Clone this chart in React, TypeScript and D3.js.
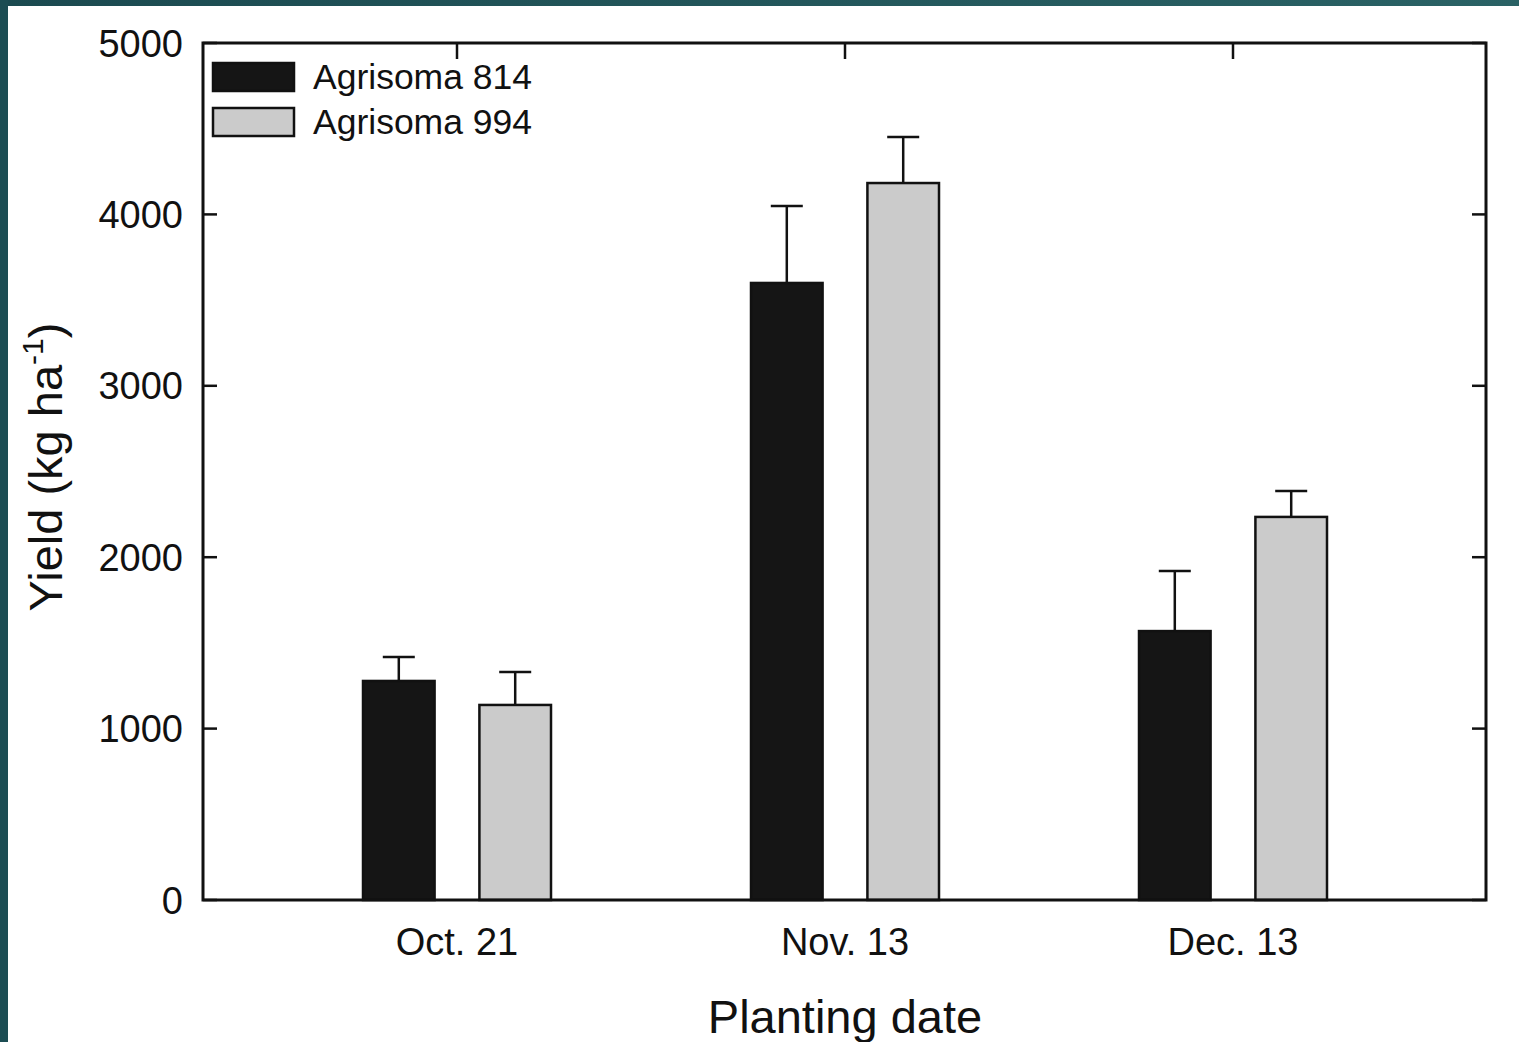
import React from "react";
import * as d3 from "d3";

const categories = ["Oct. 21", "Nov. 13", "Dec. 13"];
const seriesNames = ["Agrisoma 814", "Agrisoma 994"];
const yield814 = [1278, 3600, 1569];
const yield994 = [1138, 4183, 2235];
const err814 = [140, 449, 351];
const err994 = [192, 269, 151];
const yTicks = [0, 1000, 2000, 3000, 4000, 5000];

const W = 1519, H = 1042;
const L = 203, R = 1486, T = 43, B = 900;
const colors = ["#151515", "#cbcbcb"];

export default function App() {
  const x = d3.scaleBand().domain(categories).range([L + 60, R - 59]).paddingInner(0).paddingOuter(0);
  const xc = (c: string) => (x(c) as number) + x.bandwidth() / 2;
  const y = d3.scaleLinear().domain([0, 5000]).range([B, T]);
  const sub = d3.scaleBand().domain(seriesNames).range([-94, 94]).paddingInner(0.385).paddingOuter(0);
  const data = [yield814, yield994];
  const errs = [err814, err994];
  const font = "Arial, 'Liberation Sans', sans-serif";
  return (
    <svg width={W} height={H} style={{ position: "absolute", left: 0, top: 0, background: "#fff" }} fontFamily={font}>
      <defs>
        <linearGradient id="teal" x1="0" y1="0" x2="1" y2="0">
          <stop offset="0" stopColor="#1b4a50" />
          <stop offset="1" stopColor="#2a6265" />
        </linearGradient>
      </defs>
      <rect x={0} y={0} width={W} height={H} fill="#fff" />
      <rect x={0} y={0} width={W} height={6} fill="url(#teal)" />
      <rect x={0} y={0} width={8} height={H} fill="#1c4d53" />
      {/* bars */}
      {seriesNames.map((s, si) =>
        categories.map((c, ci) => {
          const bx = xc(c) + (sub(s) as number);
          const bw = sub.bandwidth();
          const v = data[si][ci];
          const e = v + errs[si][ci];
          const cx = bx + bw / 2;
          return (
            <g key={s + c}>
              <line x1={cx} x2={cx} y1={y(v)} y2={y(e)} stroke="#111" strokeWidth={2.5} />
              <line x1={cx - 16} x2={cx + 16} y1={y(e)} y2={y(e)} stroke="#111" strokeWidth={2.5} />
              <rect x={bx} y={y(v)} width={bw} height={B - y(v)} fill={colors[si]} stroke="#111" strokeWidth={2.5} />
            </g>
          );
        })
      )}
      {/* frame */}
      <rect x={L} y={T} width={R - L} height={B - T} fill="none" stroke="#111" strokeWidth={3} />
      {yTicks.map((t) => (
        <g key={t}>
          <line x1={L} x2={L + 14} y1={y(t)} y2={y(t)} stroke="#111" strokeWidth={2.5} />
          <line x1={R - 14} x2={R} y1={y(t)} y2={y(t)} stroke="#111" strokeWidth={2.5} />
          <text x={183} y={y(t)} dy="0.36em" textAnchor="end" fontSize={38} fill="#111">{t}</text>
        </g>
      ))}
      {categories.map((c) => (
        <g key={c}>
          <line x1={xc(c)} x2={xc(c)} y1={T} y2={T + 16} stroke="#111" strokeWidth={2.5} />
          <text x={xc(c)} y={955} textAnchor="middle" fontSize={38} fill="#111">{c}</text>
        </g>
      ))}
      {/* legend */}
      {seriesNames.map((s, i) => (
        <g key={s}>
          <rect x={213} y={63 + i * 45} width={81} height={28} fill={colors[i]} stroke="#111" strokeWidth={2.5} />
          <text x={313} y={89 + i * 45} fontSize={35.5} fill="#111">{s}</text>
        </g>
      ))}
      <text x={845} y={1033} textAnchor="middle" fontSize={47} fill="#111">Planting date</text>
      <text transform="translate(62,467) rotate(-90)" textAnchor="middle" fontSize={47} fill="#111">
        Yield (kg ha<tspan fontSize={30} dy={-19}>-1</tspan><tspan dy={19}>)</tspan>
      </text>
    </svg>
  );
}
